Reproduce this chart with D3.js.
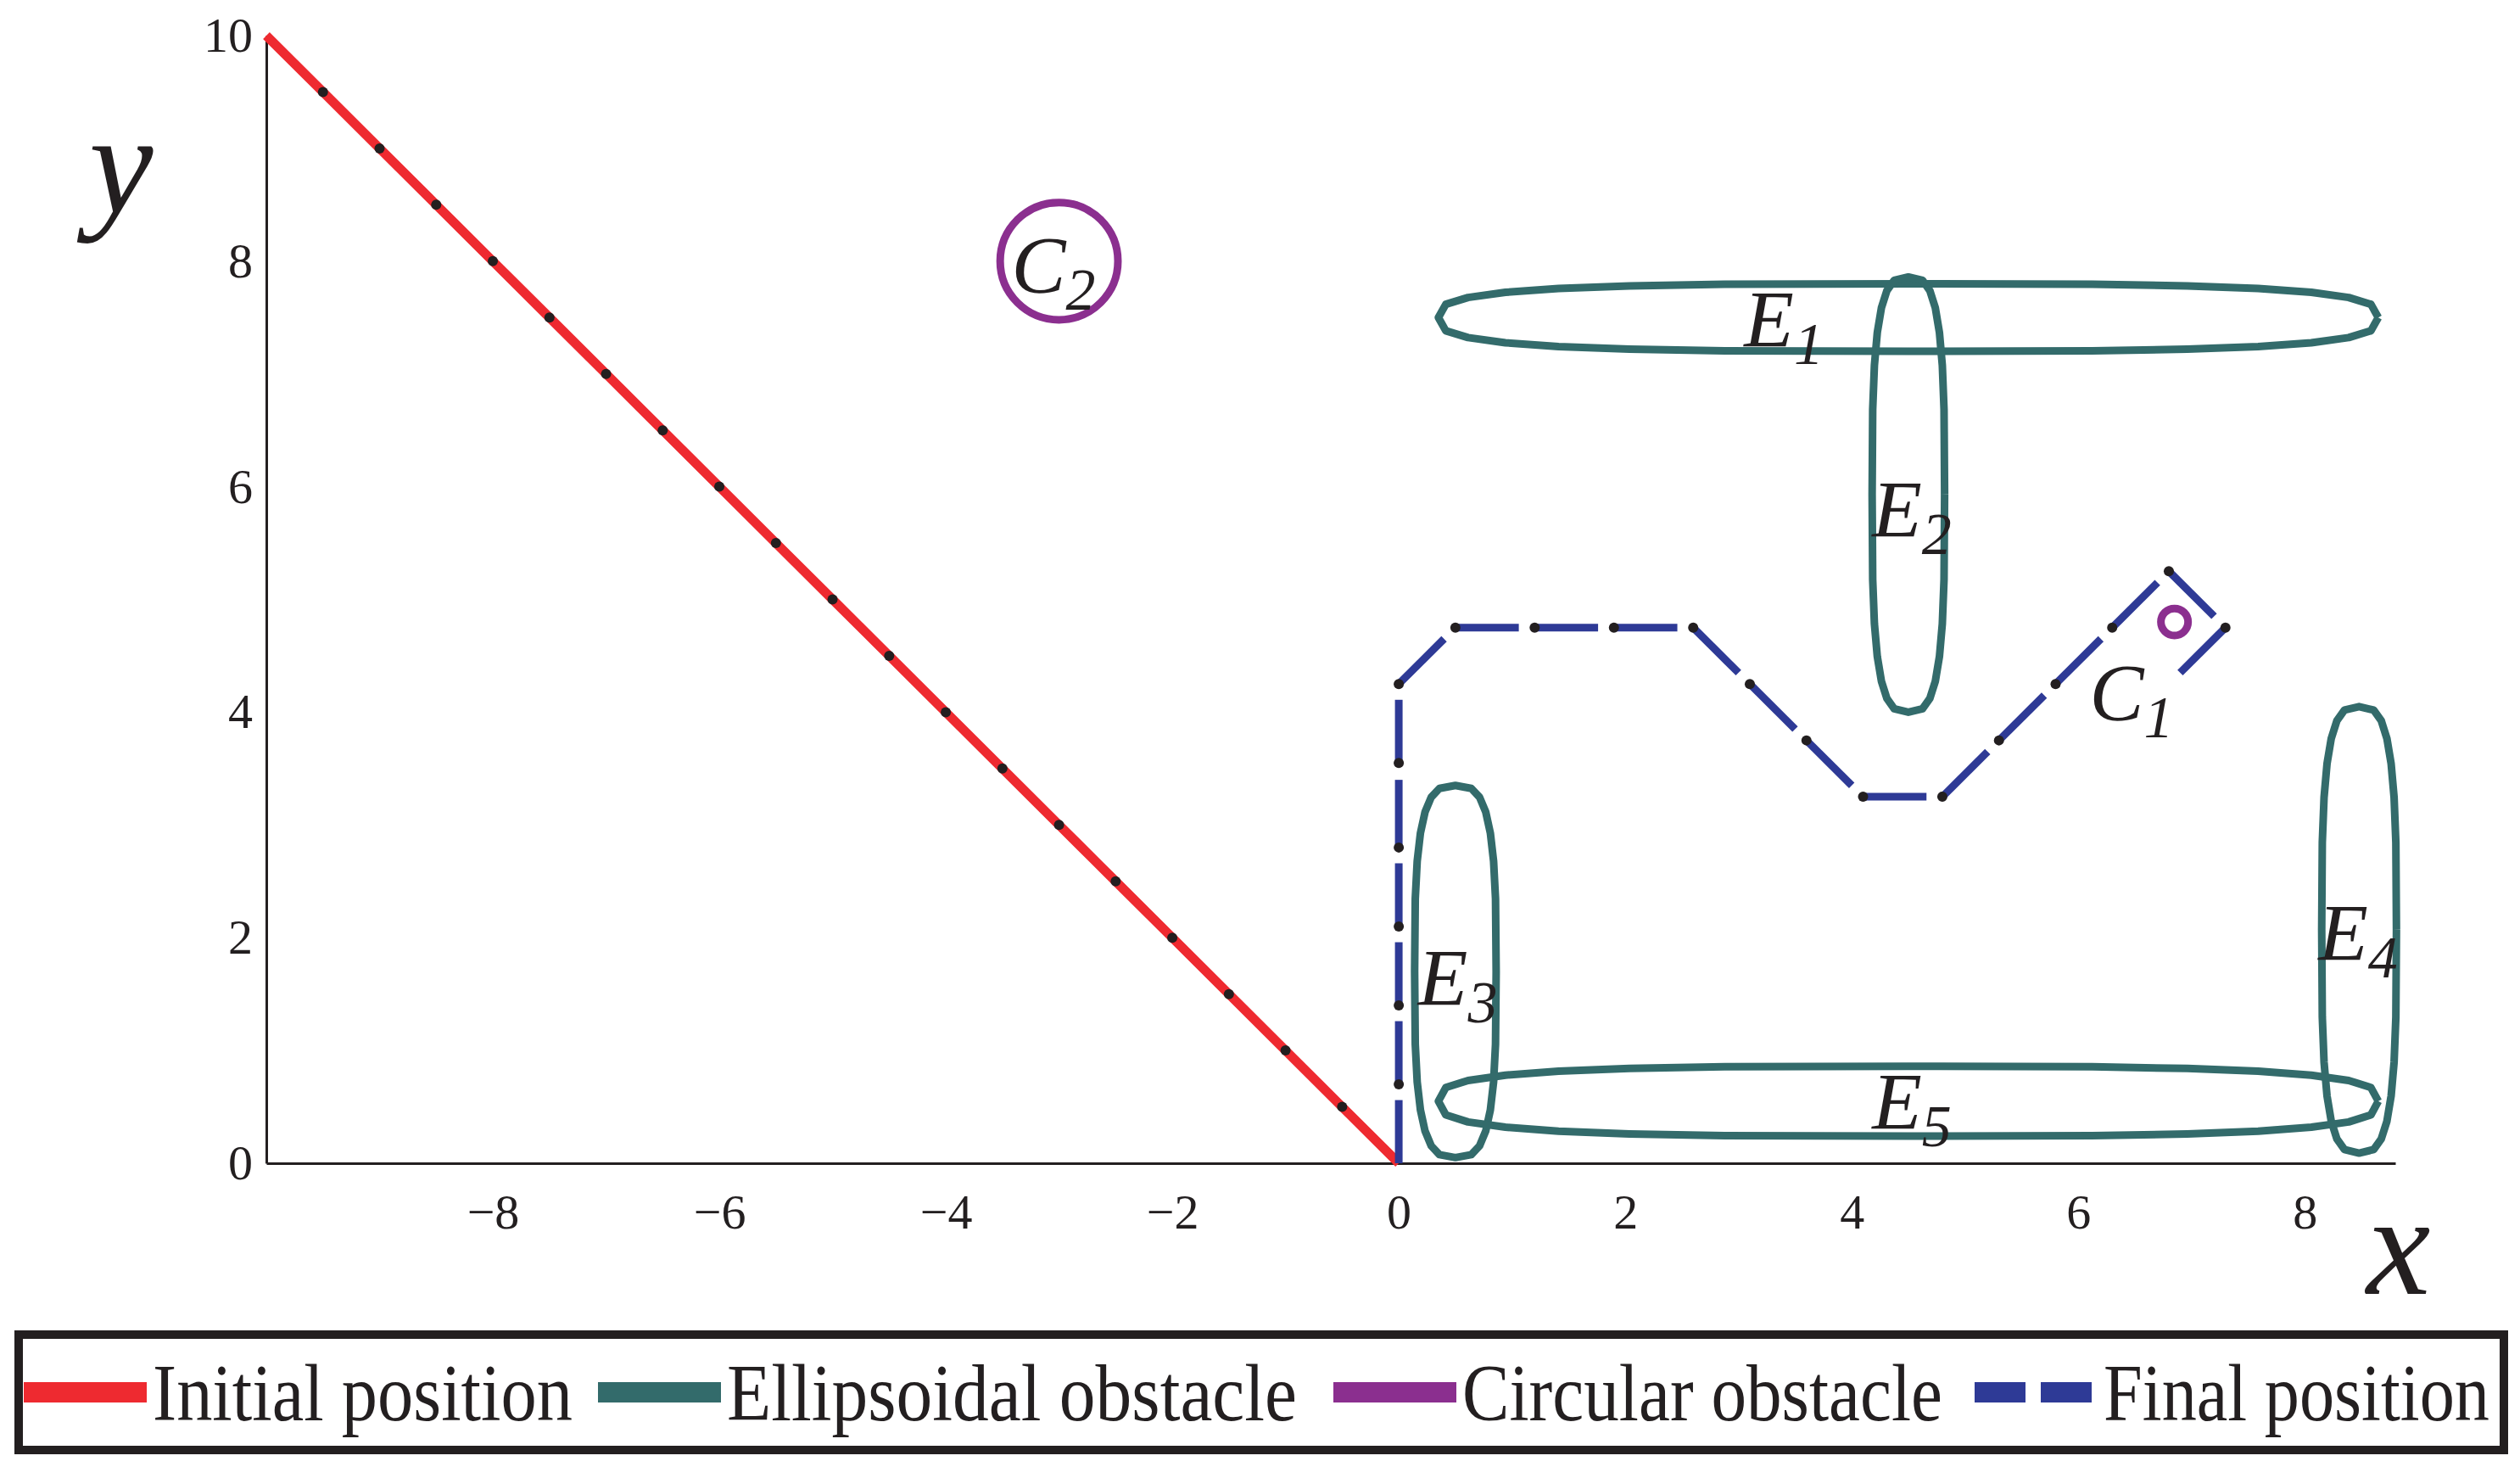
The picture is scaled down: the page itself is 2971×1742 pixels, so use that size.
<!DOCTYPE html>
<html><head><meta charset="utf-8">
<script src="https://cdn.jsdelivr.net/npm/d3@7"></script>
<style>body{margin:0;background:#fff}text{font-family:"Liberation Serif","DejaVu Serif",serif;fill:#231f20}</style>
</head><body>
<script>
const width = 2971, height = 1742;

// initial position: straight line with joints every 0.5
const initialX = [-10, -9.5, -9, -8.5, -8, -7.5, -7, -6.5, -6, -5.5, -5, -4.5, -4, -3.5, -3, -2.5, -2, -1.5, -1, -0.5, 0];
const initialY = [10, 9.5, 9, 8.5, 8, 7.5, 7, 6.5, 6, 5.5, 5, 4.5, 4, 3.5, 3, 2.5, 2, 1.5, 1, 0.5, 0];

// final position chain
const finalX = [0, 0, 0, 0, 0, 0, 0, 0.5, 1.2, 1.9, 2.6, 3.1, 3.6, 4.1, 4.8, 5.3, 5.8, 6.3, 6.8, 7.3, 6.8];
const finalY = [0, 0.7, 1.4, 2.1, 2.8, 3.55, 4.25, 4.75, 4.75, 4.75, 4.75, 4.25, 3.75, 3.25, 3.25, 3.75, 4.25, 4.75, 5.25, 4.75, 4.25];

// ellipsoidal obstacles: centre and semi-axes
const ellNames = ["E1", "E2", "E3", "E4", "E5"];
const ellCx = [4.5, 4.5, 0.5, 8.48, 4.5];
const ellCy = [7.5, 5.93, 1.7, 2.07, 0.55];
const ellA = [4.15, 0.32, 0.36, 0.33, 4.15];
const ellB = [0.3, 1.93, 1.65, 1.98, 0.31];

// circular obstacles
const circNames = ["C2", "C1"];
const circCx = [-3, 6.85];
const circCy = [8, 4.8];
const circR = [0.52, 0.12];

// labels
const labelText = ["E", "E", "E", "E", "E", "C", "C"];
const labelSub = ["1", "2", "3", "4", "5", "1", "2"];
const labelX = [3.05, 4.18, 0.17, 8.12, 4.18, 6.1, -3.05];
const labelY = [7.24, 5.55, 1.4, 1.8, 0.3, 3.93, 7.72];
const labelAnchor = ["start", "start", "start", "start", "start", "start", "middle"];

const xTicks = [-8, -6, -4, -2, 0, 2, 4, 6, 8];
const yTicks = [0, 2, 4, 6, 8, 10];

const legendNames = ["Initial position", "Ellipsoidal obstacle", "Circular obstacle", "Final position"];
const legendColors = ["#ee2a30", "#336b6b", "#8b2f8f", "#2e3a96"];

const x = d3.scaleLinear().domain([-10, 8.8]).range([314, 2824]);
const y = d3.scaleLinear().domain([0, 10]).range([1371, 42]);

const svg = d3.select("body").append("svg").attr("width", width).attr("height", height);

// axes
const xAxis = d3.axisBottom(x).tickValues(xTicks).tickSize(0).tickPadding(36)
	.tickFormat(d => d < 0 ? "\u2212" + (-d) : d);
svg.append("g").attr("transform", `translate(0,${y(0)})`).call(xAxis)
	.call(g => g.select(".domain").attr("stroke", "#231f20").attr("stroke-width", 3))
	.call(g => g.selectAll(".tick text").attr("font-size", 58).attr("fill", "#231f20").attr("font-family", "Liberation Serif"));
svg.append("g").attr("transform", "translate(314,0)")
	.call(d3.axisLeft(y).tickValues(yTicks).tickSize(0).tickPadding(16))
	.call(g => g.select(".domain").attr("stroke", "#231f20").attr("stroke-width", 3))
	.call(g => g.selectAll(".tick text").attr("font-size", 58).attr("fill", "#231f20").attr("font-family", "Liberation Serif"));

svg.append("text").attr("x", 105).attr("y", 250).attr("font-size", 170).attr("font-style", "italic").text("y");
svg.append("text").attr("x", 2790).attr("y", 1525).attr("font-size", 170).attr("font-style", "italic").text("x");

// ellipses (drawn as coarse superellipse polygons)
const line = d3.line().x(d => x(d[0])).y(d => y(d[1]));
const nSeg = 28, p = 3.2;
ellNames.forEach((nm, i) => {
	const pts = d3.range(nSeg + 1).map(k => {
		const t = k / nSeg * 2 * Math.PI, c = Math.cos(t), s = Math.sin(t);
		return [ellCx[i] + ellA[i] * Math.sign(c) * Math.pow(Math.abs(c), 2 / p),
			ellCy[i] + ellB[i] * Math.sign(s) * Math.pow(Math.abs(s), 2 / p)];
	});
	svg.append("path").attr("d", line(pts)).attr("fill", "none")
		.attr("stroke", legendColors[1]).attr("stroke-width", 9).attr("stroke-linejoin", "round");
});

// circles
circNames.forEach((nm, i) => {
	svg.append("ellipse").attr("cx", x(circCx[i])).attr("cy", y(circCy[i]))
		.attr("rx", x(circR[i]) - x(0)).attr("ry", y(0) - y(circR[i]))
		.attr("fill", "none").attr("stroke", legendColors[2]).attr("stroke-width", 9);
});

// initial position
const init = initialX.map((v, i) => [v, initialY[i]]);
svg.append("path").attr("d", line(init)).attr("fill", "none")
	.attr("stroke", legendColors[0]).attr("stroke-width", 11);
svg.selectAll(".idot").data(init.slice(1, -1)).join("circle")
	.attr("cx", d => x(d[0])).attr("cy", d => y(d[1])).attr("r", 6).attr("fill", "#231f20");

// final position: dash over 80% of each link
const fin = finalX.map((v, i) => [v, finalY[i]]);
svg.selectAll(".fseg").data(fin.slice(0, -1)).join("line")
	.attr("x1", d => x(d[0])).attr("y1", d => y(d[1]))
	.attr("x2", (d, i) => x(d[0] + 0.8 * (fin[i + 1][0] - d[0])))
	.attr("y2", (d, i) => y(d[1] + 0.8 * (fin[i + 1][1] - d[1])))
	.attr("stroke", legendColors[3]).attr("stroke-width", 9);
svg.selectAll(".fdot").data(fin.slice(1, -1)).join("circle")
	.attr("cx", d => x(d[0])).attr("cy", d => y(d[1])).attr("r", 6).attr("fill", "#231f20");

// labels
labelText.forEach((t, i) => {
	const tx = svg.append("text").attr("x", x(labelX[i])).attr("y", y(labelY[i]))
		.attr("font-size", 96).attr("font-style", "italic").attr("text-anchor", labelAnchor[i]);
	tx.append("tspan").text(t);
	tx.append("tspan").attr("dy", 20).attr("font-size", 70).text(labelSub[i]);
});

// legend
svg.append("rect").attr("x", 22).attr("y", 1573).attr("width", 2930).attr("height", 136)
	.attr("fill", "none").attr("stroke", "#231f20").attr("stroke-width", 10);
const legX = [28, 705, 1572, 2328];
const legTextW = [495, 672, 566, 455];
legendNames.forEach((nm, i) => {
	svg.append("line").attr("x1", legX[i]).attr("x2", legX[i] + 145).attr("y1", 1641).attr("y2", 1641)
		.attr("stroke", legendColors[i]).attr("stroke-width", 24)
		.attr("stroke-dasharray", i === 3 ? "60,18" : null);
	svg.append("text").attr("x", legX[i] + 152).attr("y", 1674).attr("font-size", 96)
		.attr("textLength", legTextW[i]).attr("lengthAdjust", "spacingAndGlyphs").text(nm);
});
</script>
</body></html>
